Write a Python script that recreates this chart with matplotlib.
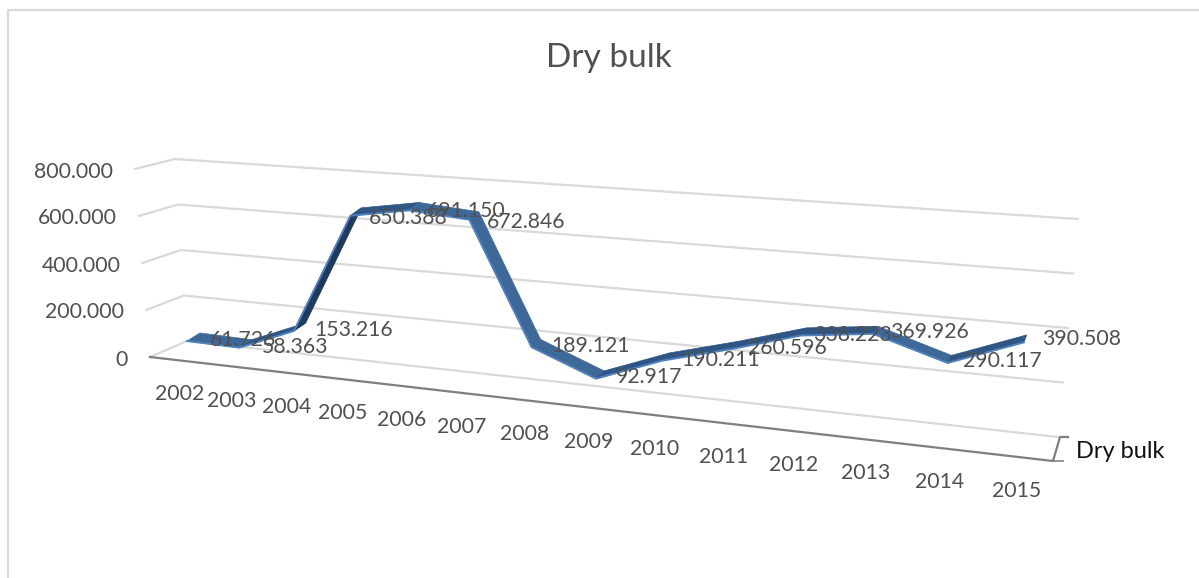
import numpy as np
import matplotlib
matplotlib.use("Agg")
import matplotlib.pyplot as plt
from matplotlib.patches import Polygon

plt.rcParams['font.family'] = ['Lato', 'DejaVu Sans']

years = [2002, 2003, 2004, 2005, 2006, 2007, 2008, 2009, 2010, 2011, 2012, 2013, 2014, 2015]
dry_bulk = [61.726, 58.363, 153.216, 650.388, 691.150, 672.846, 189.121, 92.917,
            190.211, 260.596, 338.223, 369.926, 290.117, 390.508]
y_ticks = [0, 200, 400, 600, 800]
y_tick_labels = ['0', '200.000', '400.000', '600.000', '800.000']

TXT = '#505050'
GRID = '#d9d9d9'
AXIS = '#7f7f7f'


# the Excel 3D view: year index + value -> position on the front of the ribbon
def project(i, v):
    x = 187 + 51.5 * i + 0.99 * i ** 2
    base = 355.5 + 0.115 * (x - 187)
    scale = 0.235 + 0.045 * (x - 187) / 838
    return x, base - scale * v


# depth of the ribbon gets smaller towards the right
def back_edge(x, y):
    t = (x - 187) / 838
    return x + 13 - 10 * t, y - 8 + 0.5 * t


# walls: 0 and 800 corners of the side and back wall, value -> pixel
def wall(x0, y0, x1, y1, v):
    t = v / 800
    return x0 + (x1 - x0) * t, y0 + (y1 - y0) * t


fig = plt.figure(figsize=(11.99, 5.78), dpi=100)
ax = fig.add_axes([0, 0, 1, 1])
ax.set_xlim(0, 1199)
ax.set_ylim(578, 0)
ax.axis('off')

# chart frame, cut off on the right and at the bottom
ax.plot([8, 8, 1199], [578, 10, 10], color=GRID, lw=1.6, zorder=1)

ax.text(609, 58, 'Dry bulk', fontsize=24, color=TXT, ha='center', va='center')

# gridlines over side wall and back wall
for v, lab in zip(y_ticks, y_tick_labels):
    x0, y0 = wall(150, 357, 135, 169, v)
    x1, y1 = wall(187, 341, 175, 159, v)
    x2, y2 = wall(1058, 437, 1078, 219, v)
    ax.plot([x0, x1, x2], [y0, y1, y2], color=GRID, lw=1.6, zorder=2, solid_joinstyle='miter')
    ax.text(x0 - 22, y0 + 2.5, lab, fontsize=15.3, color=TXT, ha='right', va='center')

# floor
ax.plot([150, 1053, 1060, 1068], [357, 461, 437, 437], color=AXIS, lw=1.6, zorder=3)
ax.plot([1053, 1063], [461, 461], color=AXIS, lw=1.2, zorder=3)
ax.text(1076, 451, 'Dry bulk', fontsize=17, color='#111111', ha='left', va='center')

xs, ys = zip(*[project(i, v) for i, v in enumerate(dry_bulk)])
bx, by = zip(*[back_edge(x, y) for x, y in zip(xs, ys)])

# ribbon, one face per segment
for i in range(len(xs) - 1):
    dv = dry_bulk[i + 1] - dry_bulk[i]
    col = '#3e6898'
    if dv > 300:
        col = '#1f3a5c'
    elif dv > 0:
        col = '#2f5585'
    face = Polygon([(xs[i], ys[i]), (xs[i + 1], ys[i + 1]), (bx[i + 1], by[i + 1]), (bx[i], by[i])],
                   closed=True, fc=col, ec=col, lw=0.5, zorder=4)
    ax.add_patch(face)
ax.plot(xs, ys, color='#4f81bd', lw=1.4, zorder=5, solid_joinstyle='miter')

# year labels under the floor
for i, yr in enumerate(years):
    x, y = project(i, 0)
    ax.text(x - 7.5, y + 39, str(yr), fontsize=15.3, color=TXT, ha='center', va='center', zorder=6)

# data labels, Excel put them right of the points
label_dx = [23, 22, 20, 18, 18, 18, 20, 20, 19, 17, 12, 17, 15, 18]
label_dy = [-1, -1, -1, 2, 1, 2, -1, -2, -1, -1, 0, -2, -2, -3]
for i, v in enumerate(dry_bulk):
    x, y = project(i, v)
    ax.text(x + label_dx[i], y + label_dy[i], f'{v:.3f}', fontsize=15.3, color=TXT,
            ha='left', va='center', zorder=6)

fig.savefig('out.png', dpi=100)
